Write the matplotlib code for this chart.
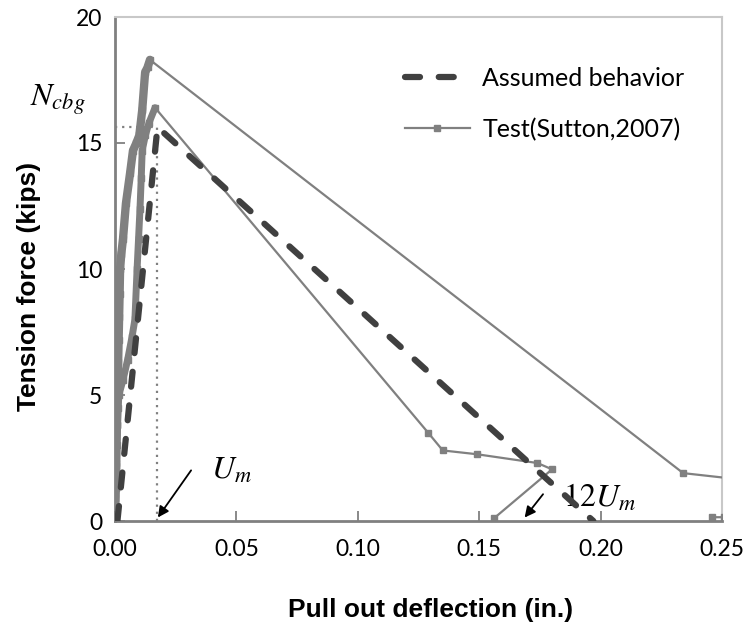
import matplotlib
matplotlib.use("Agg")
import matplotlib.pyplot as plt
import numpy as np

# ---------------- data ----------------
# Assumed (idealised) behaviour
assumed_x = [0.001, 0.0175, 0.197]
assumed_y = [0.0, 15.63, 0.0]

# Test data (Sutton, 2007) - two specimens, separated by NaN
test_a_x = [0.0000, 0.0002, 0.0004, 0.0005, 0.0006, 0.0008, 0.0009, 0.0011, 0.0013,
            0.0015, 0.0017, 0.0019, 0.0021, 0.0026, 0.0033, 0.0045, 0.0062, 0.0074,
            0.0088, 0.0100, 0.0112, 0.0124, 0.0134, 0.0144,
            0.234, 0.262, 0.262, 0.251, 0.246]
test_a_y = [0.2, 0.9, 1.6, 2.3, 3.0, 3.8, 4.5, 5.4, 6.3,
            7.2, 8.1, 9.0, 10.0, 10.6, 11.2, 12.6, 13.8, 14.7,
            15.0, 15.3, 16.3, 17.8, 18.0, 18.3,
            1.9, 1.6, 0.15, 0.15, 0.15]
test_b_x = [0.0002, 0.0004, 0.0006, 0.0008, 0.0010, 0.0013, 0.0016, 0.0033, 0.0052,
            0.0070, 0.0082, 0.0091, 0.0097, 0.0103, 0.0108, 0.0112, 0.0125, 0.0140,
            0.0165, 0.129, 0.135, 0.149, 0.174, 0.180, 0.156]
test_b_y = [0.5, 1.3, 2.2, 3.0, 3.8, 4.5, 5.0, 5.6, 6.4,
            7.3, 8.0, 10.0, 11.2, 12.4, 13.6, 14.7, 15.3, 15.8,
            16.4, 3.5, 2.8, 2.65, 2.3, 2.05, 0.1]
peak_a = int(np.argmax(test_a_y))
peak_b = int(np.argmax(test_b_y))
test_x = test_a_x + [np.nan] + test_b_x
test_y = test_a_y + [np.nan] + test_b_y

Um = 0.0175
Ncbg = 15.63

x_ticks = [0.00, 0.05, 0.10, 0.15, 0.20, 0.25]
y_ticks = [0, 5, 10, 15, 20]

# ---------------- figure ----------------
plt.rcParams['mathtext.fontset'] = 'stix'
fig = plt.figure(figsize=(7.43, 6.34), dpi=100)
ax = fig.add_axes([115/743, 113/634, (722-115)/743, (521-17)/634])

grey = '#808080'
dark = '#404040'

# reference dotted lines
ax.plot([0, Um], [Ncbg, Ncbg], linestyle=(0, (1, 2.2)), color=grey, lw=1.6, zorder=1)
ax.plot([Um, Um], [0, Ncbg], linestyle=(0, (1, 2.2)), color=grey, lw=1.6, zorder=1)

# dense loading branches of the test records (thick trace of many overlapping points)
ax.plot(test_a_x[:peak_a + 1], test_a_y[:peak_a + 1], color=grey, lw=6,
        solid_capstyle='round', solid_joinstyle='round', zorder=2)
ax.plot(test_b_x[:peak_b + 1], test_b_y[:peak_b + 1], color=grey, lw=5,
        solid_capstyle='round', solid_joinstyle='round', zorder=2)

ax.plot(test_x, test_y, color=grey, lw=1.6, marker='s', markersize=5,
        markerfacecolor=grey, markeredgecolor=grey, label='Test(Sutton,2007)', zorder=3)
ax.plot(assumed_x, assumed_y, color=dark, lw=4.5, linestyle=(0, (2.4, 3.0)),
        dash_capstyle='round', label='Assumed behavior', zorder=4)

ax.set_xlim(0, 0.25)
ax.set_ylim(0, 20)
ax.set_xticks(x_ticks)
ax.set_yticks(y_ticks)
ax.set_xticklabels(['%.2f' % v for v in x_ticks], fontname='Lato', fontsize=16.5)
ax.set_yticklabels([str(v) for v in y_ticks], fontname='Lato', fontsize=16.5)
ax.tick_params(direction='in', length=7, width=1.3, color=grey)
ax.tick_params(axis='x', pad=13)
ax.tick_params(axis='y', pad=9)

for s in ['left', 'bottom']:
    ax.spines[s].set_color(grey)
    ax.spines[s].set_linewidth(2.0)
for s in ['top', 'right']:
    ax.spines[s].set_color('#c8c8c8')
    ax.spines[s].set_linewidth(1.5)

ax.set_xlabel('Pull out deflection (in.)', fontname='Liberation Sans',
              fontweight='bold', fontsize=19)
ax.set_ylabel('Tension force (kips)', fontname='Liberation Sans',
              fontweight='bold', fontsize=19)
ax.xaxis.set_label_coords(0.52, -0.152)
ax.yaxis.set_label_coords(-0.122, 0.465)

# annotations
ax.text(-0.0235, 16.7, r'$N_{cbg}$', fontsize=23, ha='center', va='center', clip_on=False)
ax.annotate('', xy=(Um - 0.0005, 0.05), xytext=(0.032, 2.1),
            arrowprops=dict(arrowstyle='-|>', color='black', lw=1.3, mutation_scale=16))
ax.text(0.0395, 2.0, r'$U_m$', fontsize=23, ha='left', va='center')
ax.annotate('', xy=(0.168, 0.05), xytext=(0.177, 1.15),
            arrowprops=dict(arrowstyle='-|>', color='black', lw=1.3, mutation_scale=16))
ax.text(0.1845, 0.9, r'$12U_m$', fontsize=23, ha='left', va='center')

handles, labels = ax.get_legend_handles_labels()
leg = ax.legend(handles[::-1], labels[::-1], loc='upper right', frameon=False,
                prop={'family': 'Lato', 'size': 18}, handlelength=2.6,
                handletextpad=0.5, labelspacing=1.1, bbox_to_anchor=(0.975, 0.945))

fig.savefig('out.png', dpi=100)
